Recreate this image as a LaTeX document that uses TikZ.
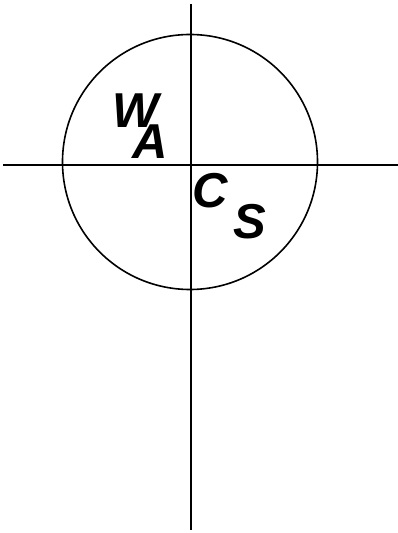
\documentclass[tikz,border=0pt]{standalone}
\usepackage{fontspec}
\setmainfont{Liberation Sans}
\begin{document}
\begin{tikzpicture}[x=1pt,y=1pt,
  axis/.style={line width=1.6pt,black},
  lbl/.style={inner sep=0pt,font=\fontsize{49}{49}\selectfont\bfseries\itshape}]
\useasboundingbox (0,0) rectangle (398,533);
\coordinate (O) at (190,371);
\draw[axis] (O) circle (127.5);
\coordinate (top) at (191,529);
\coordinate (bot) at (191,3);
\coordinate (left) at (3,368);
\coordinate (right) at (398,368);
\draw[axis] (top) -- (bot);
\draw[axis] (left) -- (right);
\node[lbl] (W) at (135.5,422.5) {W};
\node[lbl] (A) at (150,391.5) {A};
\node[lbl] (C) at (210,342.5) {C};
\node[lbl] (S) at (249.5,311) {S};
\end{tikzpicture}
\end{document}
